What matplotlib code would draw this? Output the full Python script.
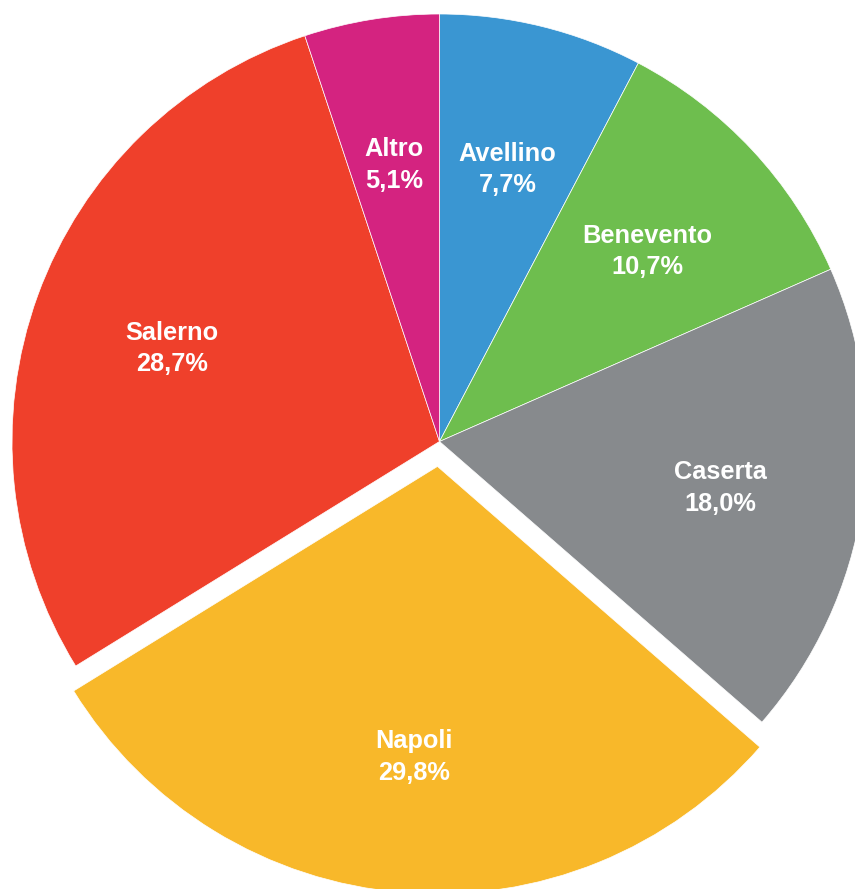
import matplotlib
matplotlib.use("Agg")
import matplotlib.pyplot as plt

# - data (share by province, %)
labels = ["Avellino", "Benevento", "Caserta", "Napoli", "Salerno", "Altro"]
shares = [7.7, 10.7, 18.0, 29.8, 28.7, 5.1]
colors = ["#3A96D2", "#6EBE4E", "#878A8D", "#F8B82A", "#EF402B", "#D42380"]
explode = [0, 0, 0, 0.0585, 0, 0]

# - figure geometry (pie centre at ~(439.5, 441.5) px, radius ~427.5 px)
W, H = 855, 889
cx, cy, r = 439.5, 441.5, 427.5

plt.rcParams['font.family'] = ['Liberation Sans', 'DejaVu Sans']
fig = plt.figure(figsize=(W / 100, H / 100), dpi=100)
ax = fig.add_axes([0, 0, 1, 1])

texts = [f"{l}\n{s:.1f}%".replace(".", ",") for l, s in zip(labels, shares)]
wedges, txt = ax.pie(shares, labels=texts, colors=colors, explode=explode,
                     startangle=90, counterclock=False, radius=1,
                     labeldistance=0.665,
                     wedgeprops=dict(edgecolor="white", linewidth=0.5))
for t in txt:
    t.set_ha("center")
    t.set_va("center")
    t.set_color("white")
    t.set_fontweight("bold")
    t.set_fontsize(18.3)
    t.set_linespacing(1.4)
    x, y = t.get_position()
    dy = 7 if t.get_text().startswith("Napoli") else 4
    t.set_position((x, y - dy / r))

ax.set_xlim(-cx / r, (W - cx) / r)
ax.set_ylim(-(H - cy) / r, cy / r)
ax.set_aspect("auto")
ax.axis("off")

plt.savefig("out.png", dpi=100, facecolor="white")
